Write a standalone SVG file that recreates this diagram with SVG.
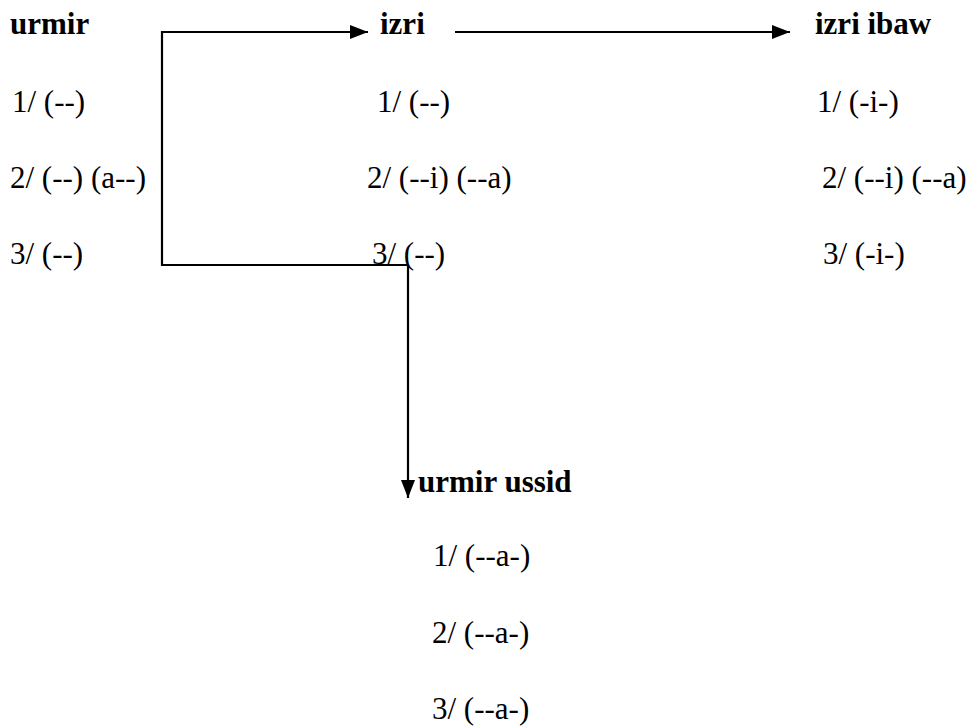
<svg xmlns="http://www.w3.org/2000/svg" width="971" height="726" viewBox="0 0 971 726">
<style>
text{font-family:'Liberation Serif','DejaVu Serif',serif;font-size:31px;fill:#000}
.h{font-weight:bold}
.c{fill:none;stroke:#000;stroke-width:2.2}
</style>
<defs>
<marker id="ah" viewBox="0 0 10 10" refX="10" refY="5" markerWidth="18" markerHeight="14" markerUnits="userSpaceOnUse" orient="auto" preserveAspectRatio="none">
<path d="M0,0 L10,5 L0,10 z" fill="#000"/>
</marker>
</defs>
<rect width="971" height="726" fill="#fff"/>
<g id="connectors">
<path class="c" d="M408,265 L162,265 L162,32 L368,32" marker-end="url(#ah)"/>
<path class="c" d="M408,265 L408,498" marker-end="url(#ah)"/>
<path class="c" d="M455,32 L790,32" marker-end="url(#ah)"/>
</g>
<g id="urmir">
<text class="h" x="10" y="34">urmir</text>
<text x="12" y="112">1/ (--)</text>
<text x="10" y="188">2/ (--) (a--)</text>
<text x="10" y="264">3/ (--)</text>
</g>
<g id="izri">
<text class="h" x="380" y="34">izri</text>
<text x="377" y="112">1/ (--)</text>
<text x="367" y="188">2/ (--i) (--a)</text>
<text x="372" y="264">3/ (--)</text>
</g>
<g id="izri-ibaw">
<text class="h" x="815" y="34">izri ibaw</text>
<text x="817" y="112">1/ (-i-)</text>
<text x="822" y="188">2/ (--i) (--a)</text>
<text x="823" y="264">3/ (-i-)</text>
</g>
<g id="urmir-ussid">
<text class="h" x="418" y="492">urmir ussid</text>
<text x="433" y="566">1/ (--a-)</text>
<text x="432" y="643">2/ (--a-)</text>
<text x="432" y="719">3/ (--a-)</text>
</g>
</svg>
